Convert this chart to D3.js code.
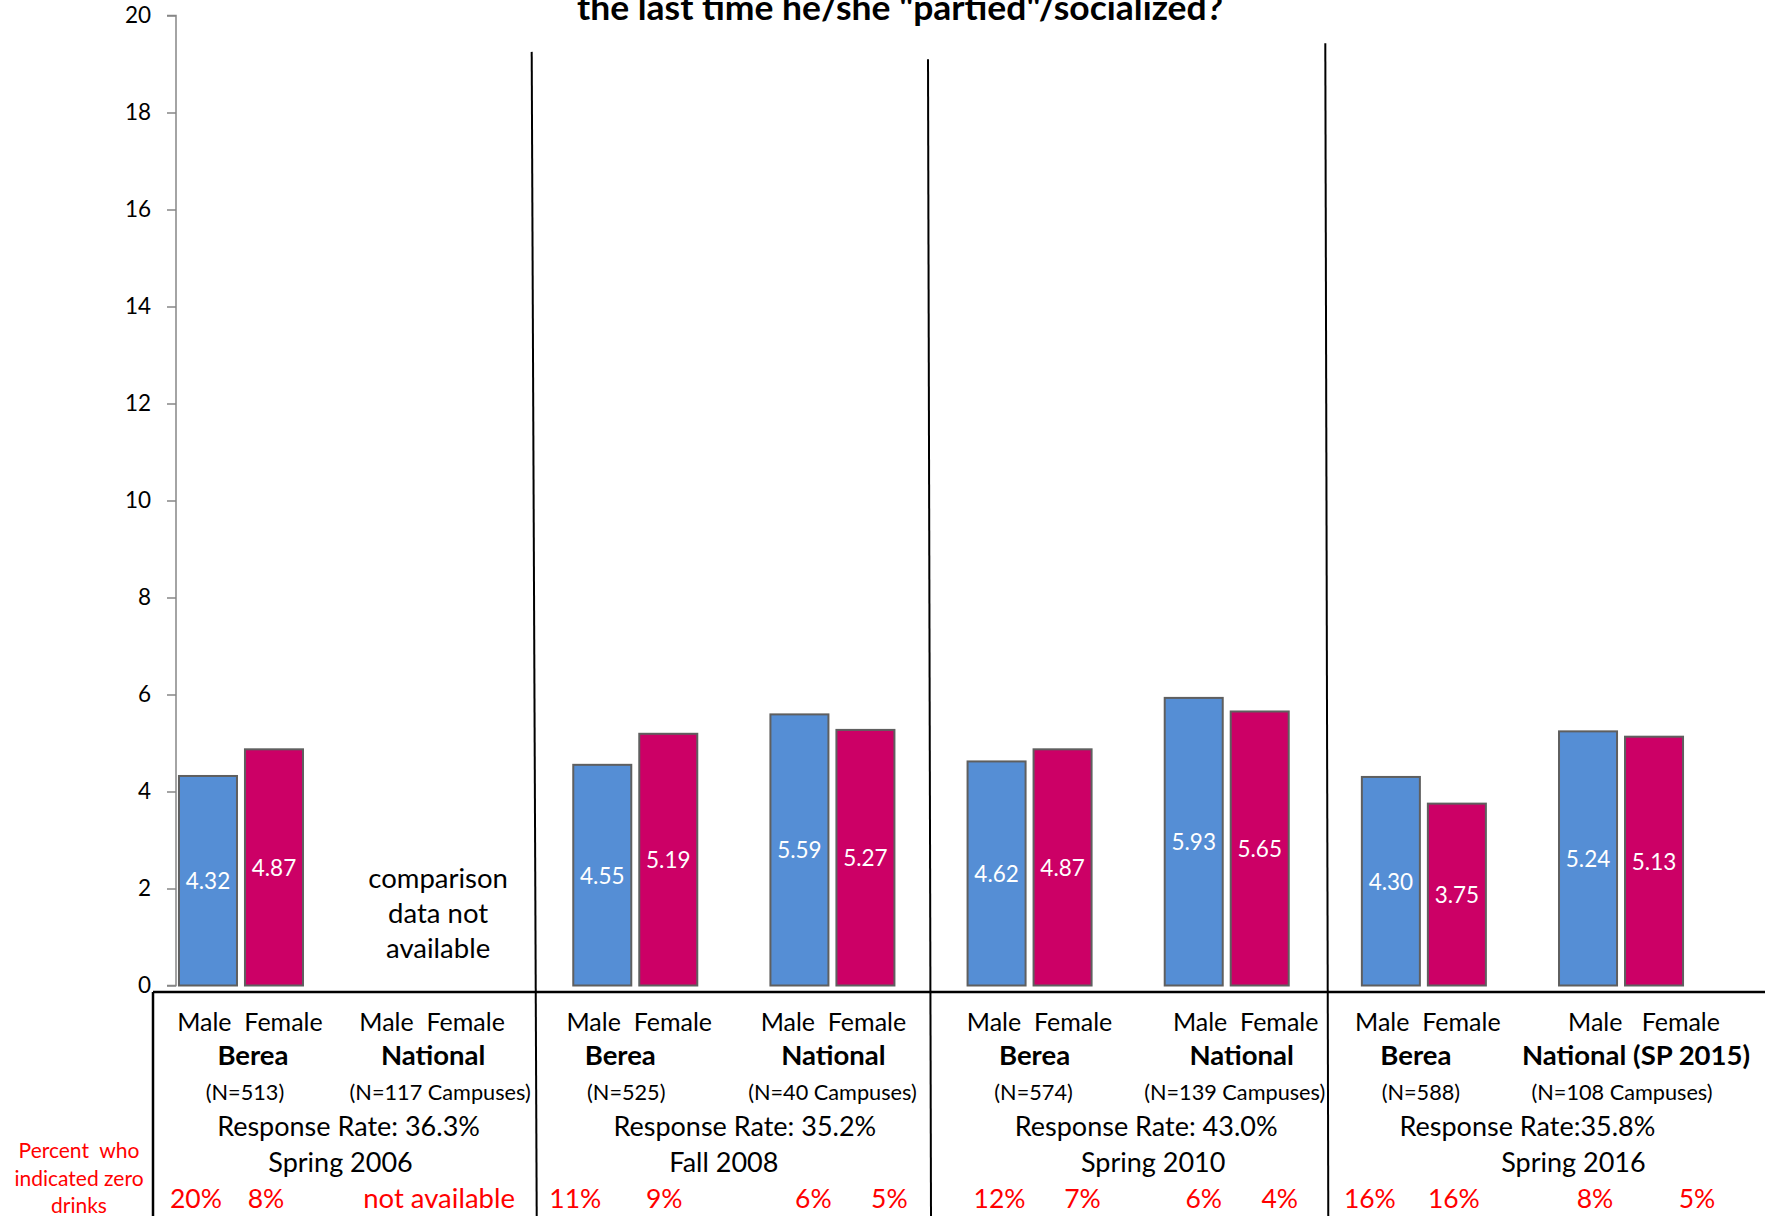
<!DOCTYPE html>
<html><head><meta charset="utf-8">
<script src="https://cdn.jsdelivr.net/npm/d3@7"></script>
<style>
html,body{margin:0;padding:0;background:#fff;}
svg{display:block;font-family:Lato,"Open Sans",sans-serif;}
</style></head><body>
<svg id="chart" width="1765" height="1216"></svg>
<script>
// ---------- DATA ----------
const categories = ["Berea 2006","National 2006","Berea 2008","National 2008","Berea 2010","National 2010","Berea 2016","National 2016"];
const sexes = ["Male","Female"];
const maleValues   = [4.32, null, 4.55, 5.59, 4.62, 5.93, 4.30, 5.24];
const femaleValues = [4.87, null, 5.19, 5.27, 4.87, 5.65, 3.75, 5.13];
const yTicks = [0,2,4,6,8,10,12,14,16,18,20];
const sexLabels = ["Male  Female","Male  Female","Male  Female","Male  Female","Male  Female","Male  Female","Male  Female","Male   Female"];
const groupNames = ["Berea","National","Berea","National","Berea","National","Berea","National (SP 2015)"];
const sampleLabels = ["(N=513)","(N=117 Campuses)","(N=525)","(N=40 Campuses)","(N=574)","(N=139 Campuses)","(N=588)","(N=108 Campuses)"];
const responseRates = ["Response Rate: 36.3%","Response Rate: 35.2%","Response Rate: 43.0%","Response Rate:35.8%"];
const periods = ["Spring 2006","Fall 2008","Spring 2010","Spring 2016"];
const zeroDrinksMale   = ["20%", null, "11%", "6%", "12%", "6%", "16%", "8%"];
const zeroDrinksFemale = ["8%",  null, "9%",  "5%", "7%",  "4%", "16%", "5%"];
const zeroDrinksMissing = ["", "not available", "", "", "", "", "", ""];
const missingNote = ["comparison", "data not", "available"];
const titleText = "the last time he/she \"partied\"/socialized?";
const sideNote = ["Percent  who", "indicated zero", "drinks"];

// ---------- LAYOUT (style only) ----------
const W = 1765, H = 1216;
const colors = {Male: "#558ED5", Female: "#CC0066"};
const svg = d3.select("#chart");
const font = "Lato, 'Open Sans', sans-serif";

const y = d3.scaleLinear().domain([0, 20]).range([985.5, 15.5]);
const x0 = d3.scaleBand().domain(categories).range([142.4, 1719.6]).paddingInner(0).paddingOuter(0);
const x1 = d3.scaleBand().domain(sexes).range([0, x0.bandwidth()]).paddingInner(0.121).paddingOuter(0.554);
const slotCenter = c => x0(c) + x0.bandwidth() / 2;
const periodCenter = p => x0(categories[2 * p]) + x0.bandwidth();

// Title (second visible line; first line is above the visible area)
svg.append("text").attr("x", 900).attr("y", 20).attr("text-anchor", "middle")
  .attr("font-weight", "bold").attr("font-size", 34).attr("fill", "#000")
  .attr("textLength", 646).attr("lengthAdjust", "spacingAndGlyphs").text(titleText);

// Y axis
const axisX = 176;
const yAxis = d3.axisLeft(y).tickValues(yTicks).tickSize(9).tickPadding(16).tickFormat(d3.format("d"));
const gAxis = svg.append("g").attr("transform", `translate(${axisX},0)`).call(yAxis);
gAxis.select(".domain").attr("stroke", "#868686").attr("stroke-width", 1.5).attr("d", `M-9,${y(20)}H0V${y(0)}H-9`);
gAxis.selectAll(".tick line").attr("stroke", "#868686").attr("stroke-width", 1.5);
gAxis.selectAll(".tick text").attr("font-family", font).attr("font-size", 22.5).attr("fill", "#000");

// Bars
const rows = [];
categories.forEach((c, i) => {
  rows.push({cat: c, sex: "Male", v: maleValues[i]});
  rows.push({cat: c, sex: "Female", v: femaleValues[i]});
});
const bars = rows.filter(d => d.v != null);
svg.append("g").selectAll("rect").data(bars).join("rect")
  .attr("x", d => x0(d.cat) + x1(d.sex))
  .attr("y", d => y(d.v))
  .attr("width", x1.bandwidth())
  .attr("height", d => y(0) - y(d.v))
  .attr("fill", d => colors[d.sex])
  .attr("stroke", "#5f5f5f").attr("stroke-width", 2);

svg.append("g").selectAll("text").data(bars).join("text")
  .attr("x", d => x0(d.cat) + x1(d.sex) + x1.bandwidth() / 2)
  .attr("y", d => y(d.v / 2))
  .attr("text-anchor", "middle").attr("dominant-baseline", "central")
  .attr("font-size", 22.5).attr("fill", "#fff")
  .text(d => d3.format(".2f")(d.v));

// "comparison data not available"
svg.append("g").selectAll("text").data(missingNote).join("text")
  .attr("x", slotCenter(categories[1]))
  .attr("y", (d, i) => 888 + i * 35)
  .attr("text-anchor", "middle").attr("font-size", 27.5).attr("fill", "#000")
  .text(d => d);

// Divider lines (span chart and table)
const dividerTops = [19.25, 19.1, 19.43];
const dividerTilt = [5, 3, 0];
[2, 4, 6].forEach((ci, k) => {
  const xb = x0(categories[ci]);
  svg.append("line")
    .attr("x1", xb - dividerTilt[k]).attr("y1", y(dividerTops[k]))
    .attr("x2", xb + (k === 2 ? 3 : 0)).attr("y2", H)
    .attr("stroke", "#000").attr("stroke-width", 2);
});

// Table frame
const tableTop = 992, tableLeft = 153;
svg.append("line").attr("x1", tableLeft).attr("x2", W).attr("y1", tableTop).attr("y2", tableTop)
  .attr("stroke", "#000").attr("stroke-width", 2.5);
svg.append("line").attr("x1", tableLeft).attr("x2", tableLeft).attr("y1", tableTop).attr("y2", H)
  .attr("stroke", "#000").attr("stroke-width", 2.5);

// Table text rows
const sexLabelDx = [9, -6, 4, 1, 10, 19, 4, 23];
const nameDx = [12, -5, -15, 1, 5, 15, -8, 15];
const sampleDx = [4, 2, -9, 0, 4, 8, -3, 1];
const rateDx = [9, 11, 18, 5];
const periodDx = [1, -10, 25, 51];
const maleDx = [-12, 0, -27, 14, 3, 10, -21, 7];
const femaleDx = [-8, 0, -4, 24, 20, 20, -3, 43];

const tg = svg.append("g").attr("text-anchor", "middle").attr("fill", "#000");
tg.selectAll("text.sex").data(sexLabels).join("text").attr("class", "sex")
  .attr("x", (d, i) => slotCenter(categories[i]) + sexLabelDx[i]).attr("y", 1031)
  .attr("font-size", 25).style("white-space", "pre").text(d => d);
tg.selectAll("text.name").data(groupNames).join("text").attr("class", "name")
  .attr("x", (d, i) => slotCenter(categories[i]) + nameDx[i]).attr("y", 1065)
  .attr("font-size", 27.5).attr("font-weight", "bold").text(d => d);
tg.selectAll("text.n").data(sampleLabels).join("text").attr("class", "n")
  .attr("x", (d, i) => slotCenter(categories[i]) + sampleDx[i]).attr("y", 1100)
  .attr("font-size", 21.7).text(d => d);
tg.selectAll("text.rate").data(responseRates).join("text").attr("class", "rate")
  .attr("x", (d, i) => periodCenter(i) + rateDx[i]).attr("y", 1136)
  .attr("font-size", 27).text(d => d);
tg.selectAll("text.period").data(periods).join("text").attr("class", "period")
  .attr("x", (d, i) => periodCenter(i) + periodDx[i]).attr("y", 1172)
  .attr("font-size", 27).text(d => d);

// Zero-drinks percentages
const barCenter = (c, s) => x0(c) + x1(s) + x1.bandwidth() / 2;
const pg = svg.append("g").attr("text-anchor", "middle").attr("fill", "#FF0000").attr("font-size", 26.5);
pg.selectAll("text.pm").data(zeroDrinksMale.map((v, i) => ({v, i})).filter(d => d.v)).join("text")
  .attr("class", "pm").attr("x", d => barCenter(categories[d.i], "Male") + maleDx[d.i]).attr("y", 1208).text(d => d.v);
pg.selectAll("text.pf").data(zeroDrinksFemale.map((v, i) => ({v, i})).filter(d => d.v)).join("text")
  .attr("class", "pf").attr("x", d => barCenter(categories[d.i], "Female") + femaleDx[d.i]).attr("y", 1208).text(d => d.v);
pg.selectAll("text.na").data(zeroDrinksMissing.map((v, i) => ({v, i})).filter(d => d.v)).join("text")
  .attr("class", "na").attr("x", d => slotCenter(categories[d.i]) + 1).attr("y", 1208)
  .attr("font-size", 27.5).text(d => d.v);

// Side note
svg.append("g").selectAll("text").data(sideNote).join("text")
  .attr("x", 79).attr("y", (d, i) => 1158 + i * 27.5)
  .attr("text-anchor", "middle").attr("font-size", 21).attr("fill", "#FF0000")
  .style("white-space", "pre").text(d => d);
</script>
</body></html>
